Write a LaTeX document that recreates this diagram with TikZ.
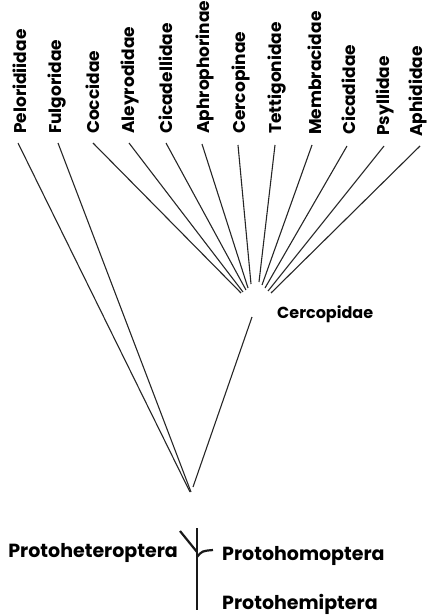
\documentclass[tikz,border=0pt]{standalone}
\usepackage{fontspec}
\setmainfont{Poppins}
\begin{document}
\begin{tikzpicture}[x=1pt,y=-1pt,
  toplab/.style={rotate=90,anchor=west,inner sep=0pt,font=\fontsize{17}{18}\selectfont\bfseries},
  midlab/.style={anchor=base west,inner sep=0pt,font=\fontsize{16}{17}\selectfont\bfseries},
  botlab/.style={inner sep=0pt,font=\fontsize{19}{21}\selectfont\bfseries},
  branch/.style={line width=1.1pt,draw=black!85},
  stem/.style={line width=2.6pt,draw=black!90}]
\useasboundingbox (0,0) rectangle (429,615);
% top labels
\node[toplab] (l1) at (20,134) {Peloridiidae};
\node[toplab] (l2) at (57,134) {Fulgoridae};
\node[toplab] (l3) at (93,134) {Coccidae};
\node[toplab] (l4) at (130,134) {Aleyrodidae};
\node[toplab] (l5) at (166,134) {Cicadellidae};
\node[toplab] (l6) at (205,134) {Aphrophorinae};
\node[toplab] (l7) at (241,134) {Cercopinae};
\node[toplab] (l8) at (277,134) {Tettigonidae};
\node[toplab] (l9) at (315,135) {Membracidae};
\node[toplab] (l10) at (349,135) {Cicadidae};
\node[toplab] (l11) at (385,136) {Psyllidae};
\node[toplab] (l12) at (418,137) {Aphididae};
\node[midlab] (cerc) at (277,318) {Cercopidae};
% line top ends
\coordinate (t1) at (18,143);
\coordinate (t2) at (58,143);
\coordinate (t3) at (93,143);
\coordinate (t4) at (129,143);
\coordinate (t5) at (166,143);
\coordinate (t6) at (202,144);
\coordinate (t7) at (238,145);
\coordinate (t8) at (275,145);
\coordinate (t9) at (312,145);
\coordinate (t10) at (347,146);
\coordinate (t11) at (384,146);
\coordinate (t12) at (420,146);
% convergence ends
\coordinate (e1) at (190,492);
\coordinate (e2) at (191,492);
\coordinate (e3) at (241,293);
\coordinate (e4) at (243,292);
\coordinate (e5) at (246,290);
\coordinate (e6) at (248,288);
\coordinate (e7) at (251,284);
\coordinate (e8) at (259,282);
\coordinate (e9) at (262,285);
\coordinate (e10) at (265,288);
\coordinate (e11) at (268,291);
\coordinate (e12) at (271,293);
\coordinate (cs) at (252,317);
\coordinate (ce) at (193,487);
\foreach \i in {1,...,12} {\draw[branch] (t\i) -- (e\i);}
\draw[branch] (cs) -- (ce);
% basal symbol
\coordinate (stop) at (197,528);
\coordinate (sbot) at (197,610);
\coordinate (lb) at (180,531);
\coordinate (lj) at (197,552);
\coordinate (rj) at (197,557);
\coordinate (rb) at (213,550);
\draw[stem] (stop) -- (sbot);
\draw[line width=2.2pt,draw=black!90] (lb) -- (lj);
\draw[line width=2.2pt,draw=black!90] (rj) .. controls (202,551) .. (rb);
\node[botlab,anchor=base east] (phet) at (178,557) {Protoheteroptera};
\node[botlab,anchor=base west] (phom) at (222,560) {Protohomoptera};
\node[botlab,anchor=base west] (phem) at (222,609) {Protohemiptera};
\end{tikzpicture}
\end{document}
